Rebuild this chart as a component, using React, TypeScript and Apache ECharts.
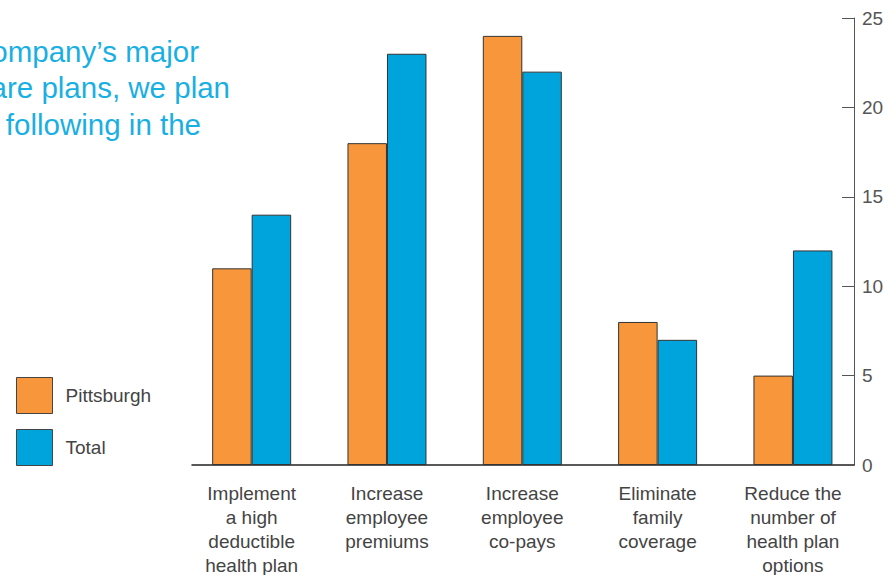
import React, { useEffect, useRef } from "react";
import * as echarts from "echarts";

const categories = [
  "Implement\na high\ndeductible\nhealth plan",
  "Increase\nemployee\npremiums",
  "Increase\nemployee\nco-pays",
  "Eliminate\nfamily\ncoverage",
  "Reduce the\nnumber of\nhealth plan\noptions",
];
const pittsburgh = [11, 18, 24, 8, 5];
const total = [14, 23, 22, 7, 12];
const titleLines = [
  "Of our company\u2019s major",
  "healthcare plans, we plan",
  "to do the following in the",
];
const seriesNames = ["Pittsburgh", "Total"];

const FONT = "Liberation Sans, Arial, sans-serif";

export default function App() {
  const ref = useRef<HTMLDivElement>(null);
  useEffect(() => {
    if (!ref.current) return;
    const chart = echarts.init(ref.current, null, { renderer: "svg" });
    const gridTop = 18;
    const gridBottom = 110;
    chart.setOption({
      animation: false,
      backgroundColor: "#ffffff",
      textStyle: { fontFamily: FONT },
      graphic: titleLines.map((t, i) => ({
        type: "text",
        right: [697, 666, 695][i],
        top: 36 + i * 36.5,
        style: {
          text: t,
          font: `29.5px ${FONT}`,
          fill: "#1aafe3",
        },
      })),
      legend: {
        orient: "vertical",
        left: 16,
        top: 377,
        padding: 0,
        itemWidth: 36,
        itemHeight: 36,
        itemGap: 15,
        icon: "rect",
        data: seriesNames,
        itemStyle: { borderColor: "#444", borderWidth: 1 },
        textStyle: {
          fontSize: 19,
          color: "#444",
          fontFamily: FONT,
          padding: [0, 0, 0, 8],
        },
      },
      grid: [
        {
          left: 184,
          right: 35.4,
          top: gridTop,
          bottom: gridBottom,
          outerBoundsMode: "none",
          containLabel: false,
        },
        {
          left: 192,
          right: 42,
          top: gridTop,
          bottom: gridBottom,
          outerBoundsMode: "none",
          containLabel: false,
        },
      ],
      xAxis: [
        {
          type: "category",
          gridIndex: 0,
          data: categories,
          axisLine: { show: false },
          axisTick: { show: false },
          axisLabel: {
            fontSize: 19,
            lineHeight: 24,
            color: "#444",
            margin: 16,
            fontFamily: FONT,
            interval: 0,
            overflow: "none",
          },
        },
        {
          type: "value",
          gridIndex: 1,
          min: 0,
          max: 1,
          position: "bottom",
          axisLine: {
            show: true,
            onZero: false,
            lineStyle: { color: "#222", width: 1.5 },
          },
          axisTick: { show: false },
          axisLabel: { show: false },
          splitLine: { show: false },
        },
      ],
      yAxis: [
        {
          type: "value",
          gridIndex: 0,
          min: 0,
          max: 25,
          interval: 5,
          show: false,
        },
        {
          type: "value",
          gridIndex: 1,
          position: "right",
          min: 0,
          max: 25,
          interval: 5,
          axisLine: {
            show: true,
            onZero: false,
            lineStyle: { color: "#555", width: 1 },
          },
          axisTick: {
            show: true,
            inside: true,
            length: 12,
            lineStyle: { color: "#555", width: 1 },
          },
          axisLabel: {
            fontSize: 19,
            color: "#555",
            margin: 8,
            fontFamily: FONT,
          },
          splitLine: { show: false },
        },
      ],
      series: [
        {
          name: seriesNames[0],
          type: "bar",
          xAxisIndex: 0,
          yAxisIndex: 0,
          data: pittsburgh,
          barWidth: 39.5,
          barGap: "0%",
          itemStyle: { color: "#f7963b", borderColor: "#333", borderWidth: 1 },
        },
        {
          name: seriesNames[1],
          type: "bar",
          xAxisIndex: 0,
          yAxisIndex: 0,
          data: total,
          barWidth: 39.5,
          barGap: "0%",
          itemStyle: { color: "#00a4dd", borderColor: "#333", borderWidth: 1 },
        },
      ],
    });
    return () => chart.dispose();
  }, []);
  return (
    <div
      ref={ref}
      style={{ position: "fixed", left: 0, top: 0, width: 896, height: 575 }}
    />
  );
}
